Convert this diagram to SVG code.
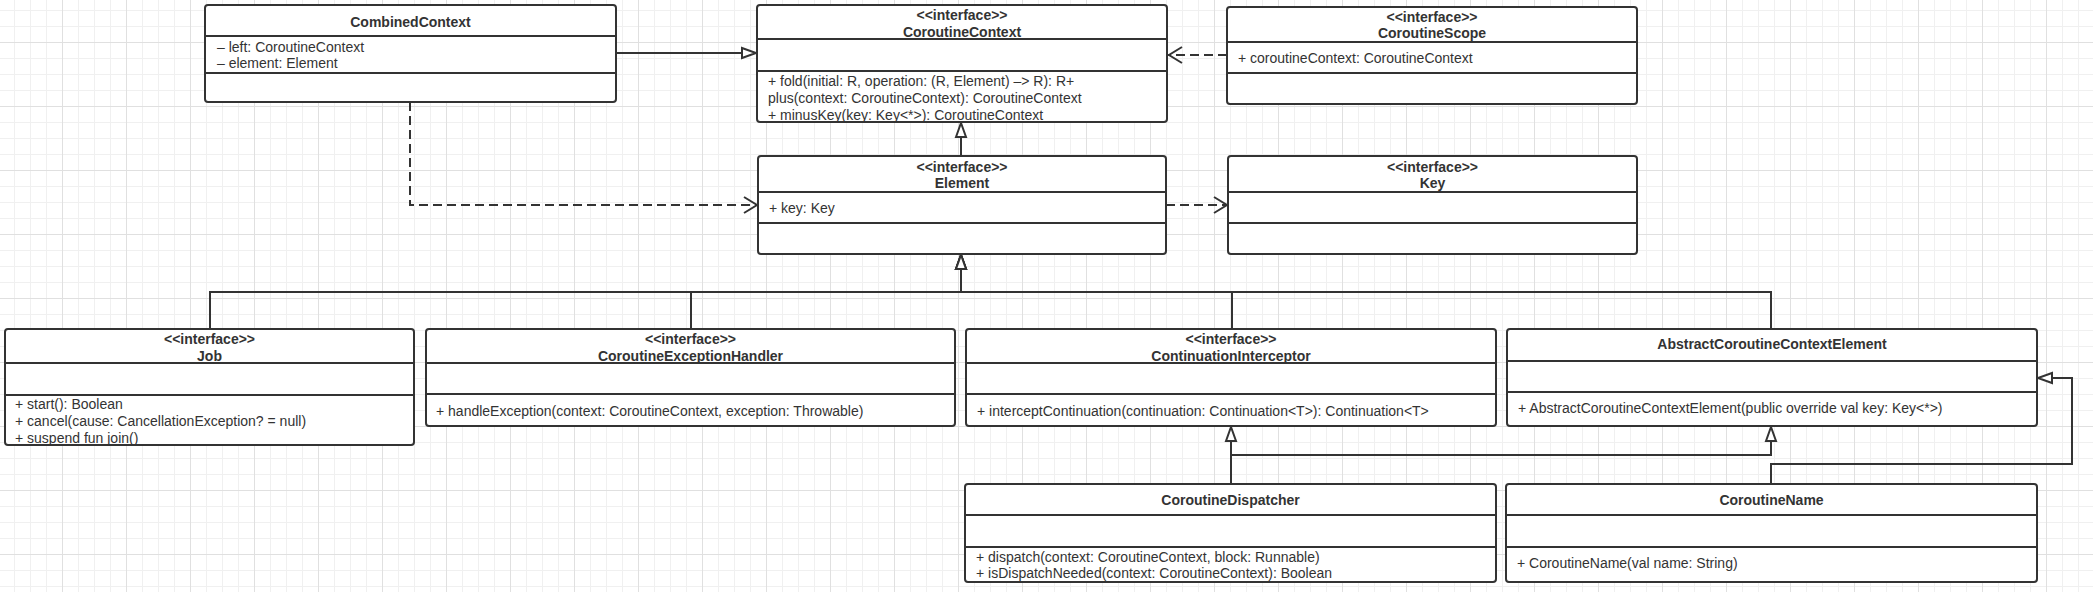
<svg xmlns="http://www.w3.org/2000/svg" width="2093" height="592" viewBox="0 0 2093 592">
<style>
.box{fill:#fff;stroke:#333;stroke-width:2}
.div{stroke:#333;stroke-width:2}
.h{font-family:'Liberation Sans',Arial,sans-serif;font-size:14px;font-weight:bold;fill:#333;text-anchor:middle}
.t{font-family:'Liberation Sans',Arial,sans-serif;font-size:14px;fill:#333}
.c{fill:none;stroke:#333;stroke-width:2}
.d{fill:none;stroke:#333;stroke-width:2;stroke-dasharray:9 5}
</style>
<defs>
<pattern id="grid" x="-2" y="-22" width="64" height="64" patternUnits="userSpaceOnUse">
<rect width="64" height="64" fill="#fff"/>
<path d="M16.5 0V64M32.5 0V64M48.5 0V64M0 16.5H64M0 32.5H64M0 48.5H64" stroke="#f0f0f0" stroke-width="1"/>
<path d="M0.5 0V64M0 0.5H64" stroke="#e0e0e0" stroke-width="1"/>
</pattern>
<marker id="tri" markerUnits="userSpaceOnUse" markerWidth="20" markerHeight="16" viewBox="-2 -8 20 16" refX="15" refY="0" orient="auto">
<path d="M0,-5 L14,0 L0,5 Z" fill="#fff" stroke="#333" stroke-width="2"/>
</marker>
<marker id="open" markerUnits="userSpaceOnUse" markerWidth="20" markerHeight="22" viewBox="-2 -11 20 22" refX="14" refY="0" orient="auto">
<path d="M0,-8 L13,0 L0,8" fill="none" stroke="#333" stroke-width="2"/>
</marker>
</defs>
<rect width="2093" height="592" fill="url(#grid)"/>

<g id="connectors">
<path class="c" d="M616 53H757" marker-end="url(#tri)"/>
<path class="d" d="M1227 55H1168" marker-end="url(#open)"/>
<path class="d" d="M410 102V205H758" marker-end="url(#open)"/>
<path class="d" d="M1166 205H1228" marker-end="url(#open)"/>
<path class="c" d="M961 156V122" marker-end="url(#tri)"/>
<path class="c" d="M210 329V292H961V254" marker-end="url(#tri)"/>
<path class="c" d="M691 329V292H961V254" marker-end="url(#tri)"/>
<path class="c" d="M1232 329V292H961V254" marker-end="url(#tri)"/>
<path class="c" d="M1771 329V292H961V254" marker-end="url(#tri)"/>
<path class="c" d="M1231 484V426" marker-end="url(#tri)"/>
<path class="c" d="M1231 484V455H1771V426" marker-end="url(#tri)"/>
<path class="c" d="M1771 484V464H2072V378H2037" marker-end="url(#tri)"/>
</g>

<g id="CombinedContext">
<rect class="box" x="205" y="5" width="411" height="97" rx="3"/>
<path class="div" d="M205 36H616M205 73H616"/>
<text class="h" x="410.5" y="27">CombinedContext</text>
<text class="t" x="217" y="52">– left: CoroutineContext</text>
<text class="t" x="217" y="68">– element: Element</text>
</g>

<g id="CoroutineContext">
<rect class="box" x="757" y="5" width="410" height="117" rx="3"/>
<path class="div" d="M757 39H1167M757 71H1167"/>
<text class="h" x="962" y="20">&lt;&lt;interface&gt;&gt;</text>
<text class="h" x="962" y="37">CoroutineContext</text>
<text class="t" x="768" y="86">+ fold(initial: R, operation: (R, Element) –&gt; R): R+</text>
<text class="t" x="768" y="103">plus(context: CoroutineContext): CoroutineContext</text>
<text class="t" x="768" y="120">+ minusKey(key: Key&lt;*&gt;): CoroutineContext</text>
</g>

<g id="CoroutineScope">
<rect class="box" x="1227" y="7" width="410" height="97" rx="3"/>
<path class="div" d="M1227 42H1637M1227 73H1637"/>
<text class="h" x="1432" y="22">&lt;&lt;interface&gt;&gt;</text>
<text class="h" x="1432" y="38">CoroutineScope</text>
<text class="t" x="1238" y="63">+ coroutineContext: CoroutineContext</text>
</g>

<g id="Element">
<rect class="box" x="758" y="156" width="408" height="98" rx="3"/>
<path class="div" d="M758 192H1166M758 223H1166"/>
<text class="h" x="962" y="172">&lt;&lt;interface&gt;&gt;</text>
<text class="h" x="962" y="188">Element</text>
<text class="t" x="769" y="213">+ key: Key</text>
</g>

<g id="Key">
<rect class="box" x="1228" y="156" width="409" height="98" rx="3"/>
<path class="div" d="M1228 192H1637M1228 223H1637"/>
<text class="h" x="1432.5" y="172">&lt;&lt;interface&gt;&gt;</text>
<text class="h" x="1432.5" y="188">Key</text>
</g>

<g id="Job">
<rect class="box" x="5" y="329" width="409" height="116" rx="3"/>
<path class="div" d="M5 363H414M5 395H414"/>
<text class="h" x="209.5" y="344">&lt;&lt;interface&gt;&gt;</text>
<text class="h" x="209.5" y="361">Job</text>
<text class="t" x="15" y="409">+ start(): Boolean</text>
<text class="t" x="15" y="426">+ cancel(cause: CancellationException? = null)</text>
<text class="t" x="15" y="443">+ suspend fun join()</text>
</g>

<g id="CoroutineExceptionHandler">
<rect class="box" x="426" y="329" width="529" height="97" rx="3"/>
<path class="div" d="M426 363H955M426 394H955"/>
<text class="h" x="690.5" y="344">&lt;&lt;interface&gt;&gt;</text>
<text class="h" x="690.5" y="361">CoroutineExceptionHandler</text>
<text class="t" x="436" y="416">+ handleException(context: CoroutineContext, exception: Throwable)</text>
</g>

<g id="ContinuationInterceptor">
<rect class="box" x="966" y="329" width="530" height="97" rx="3"/>
<path class="div" d="M966 363H1496M966 394H1496"/>
<text class="h" x="1231" y="344">&lt;&lt;interface&gt;&gt;</text>
<text class="h" x="1231" y="361">ContinuationInterceptor</text>
<text class="t" x="977" y="416">+ interceptContinuation(continuation: Continuation&lt;T&gt;): Continuation&lt;T&gt;</text>
</g>

<g id="AbstractCoroutineContextElement">
<rect class="box" x="1507" y="329" width="530" height="97" rx="3"/>
<path class="div" d="M1507 361H2037M1507 392H2037"/>
<text class="h" x="1772" y="349">AbstractCoroutineContextElement</text>
<text class="t" x="1518" y="413">+ AbstractCoroutineContextElement(public override val key: Key&lt;*&gt;)</text>
</g>

<g id="CoroutineDispatcher">
<rect class="box" x="965" y="484" width="531" height="98" rx="3"/>
<path class="div" d="M965 515H1496M965 547H1496"/>
<text class="h" x="1230.5" y="505">CoroutineDispatcher</text>
<text class="t" x="976" y="562">+ dispatch(context: CoroutineContext, block: Runnable)</text>
<text class="t" x="976" y="578">+ isDispatchNeeded(context: CoroutineContext): Boolean</text>
</g>

<g id="CoroutineName">
<rect class="box" x="1506" y="484" width="531" height="98" rx="3"/>
<path class="div" d="M1506 515H2037M1506 547H2037"/>
<text class="h" x="1771.5" y="505">CoroutineName</text>
<text class="t" x="1517" y="568">+ CoroutineName(val name: String)</text>
</g>
</svg>
